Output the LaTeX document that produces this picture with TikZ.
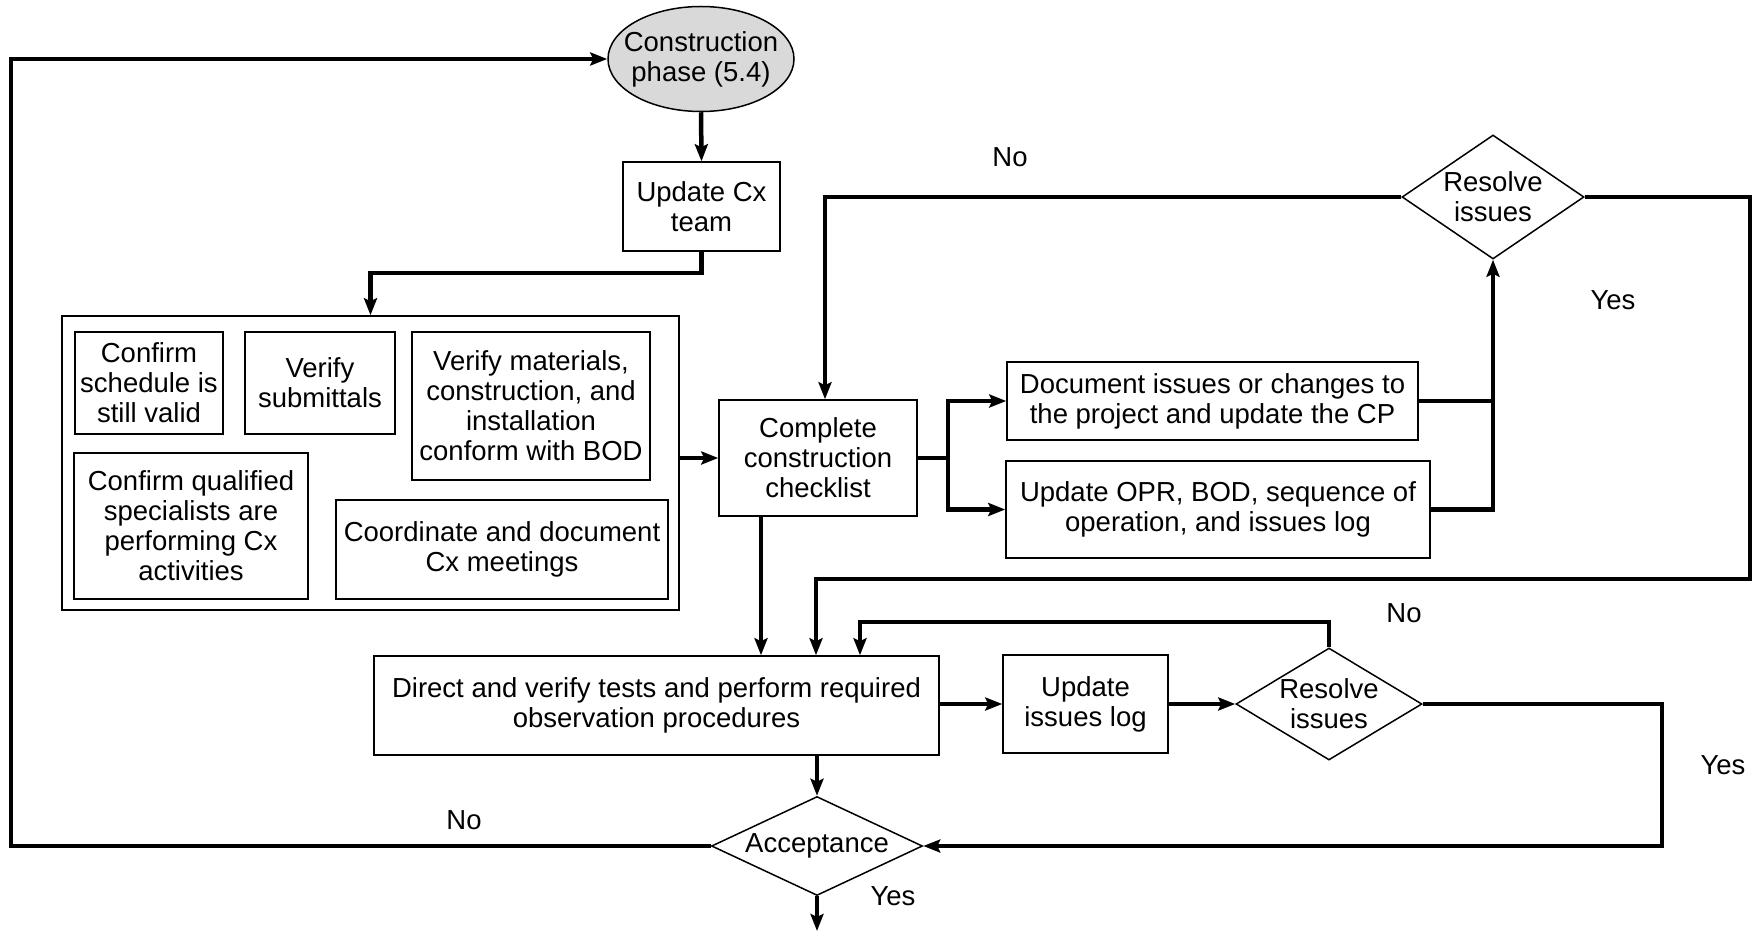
\documentclass[tikz,border=0pt]{standalone}
\usepackage{fontspec}
\setmainfont{Liberation Sans}
\usetikzlibrary{shapes.geometric,arrows.meta,calc}
\definecolor{phasegray}{HTML}{D9D9D9}
\begin{document}
\begin{tikzpicture}[x=1pt,y=-1pt,
  every node/.style={font=\fontsize{27.5}{30}\selectfont, align=center, inner sep=0pt, text=black},
  box/.style={draw, rectangle, line width=1.5pt},
  dia/.style={draw, diamond, line width=1.5pt, inner sep=0pt},
  flow/.style={line width=4.5pt, line join=miter},
  arr/.style={flow, -{Stealth[length=17pt,width=13pt,inset=3pt]}},
  lbl/.style={}
]
\useasboundingbox (0,0) rectangle (1760,933);

% nodes
\node[draw, ellipse, fill=phasegray, line width=1.5pt, inner xsep=-12pt, minimum width=186pt, minimum height=105pt] (ell) at (701,59) {Construction\\phase (5.4)};
\node[box, minimum width=157pt, minimum height=89pt] (upd) at (701.5,206.5) {Update Cx\\team};
\node[box, minimum width=617pt, minimum height=294pt] (big) at (370.5,463) {};
\node[box, minimum width=148pt, minimum height=102pt] (sched) at (149,383) {Confirm\\schedule is\\still valid};
\node[box, minimum width=150pt, minimum height=102pt] (subm) at (320,383) {Verify\\submittals};
\node[box, minimum width=238pt, minimum height=148pt] (mat) at (531,406) {Verify materials,\\construction, and\\installation\\conform with BOD};
\node[box, minimum width=234pt, minimum height=146pt] (qual) at (191,526) {Confirm qualified\\specialists are\\performing Cx\\activities};
\node[box, minimum width=332pt, minimum height=99pt] (coord) at (502,549.5) {Coordinate and document\\Cx meetings};
\node[box, minimum width=198pt, minimum height=116pt] (comp) at (818,458) {Complete\\construction\\checklist};
\node[box, minimum width=411pt, minimum height=78pt] (doc) at (1212.5,401) {Document issues or changes to\\the project and update the CP};
\node[box, minimum width=424pt, minimum height=97pt] (opr) at (1218,509.5) {Update OPR, BOD, sequence of\\operation, and issues log};
\node[dia, aspect=1.47, minimum width=182pt, minimum height=124pt] (res1) at (1493,197) {Resolve\\issues};
\node[box, minimum width=565pt, minimum height=99pt] (direct) at (656.5,705.5) {Direct and verify tests and perform required\\observation procedures};
\node[box, minimum width=165pt, minimum height=98pt] (log) at (1085.5,704) {Update\\issues log};
\node[dia, aspect=1.66, minimum width=186pt, minimum height=112pt] (res2) at (1329,704) {Resolve\\issues};
\node[dia, aspect=2.13, minimum width=211pt, minimum height=99pt] (acc) at (817,846) {Acceptance};

% labels
\node[lbl] (no1) at (1010,157) {No};
\node[lbl] (yes1) at (1613,300) {Yes};
\node[lbl] (no2) at (1404,613) {No};
\node[lbl] (yes2) at (1723,765) {Yes};
\node[lbl] (no3) at (464,820) {No};
\node[lbl] (yes3) at (893,896) {Yes};

% helper coordinates
\coordinate (r1c) at (1750,197);
\coordinate (r1d) at (1750,579);
\coordinate (r1e) at (816,579);
\coordinate (r2up) at (1329,622);
\coordinate (r2l) at (860,622);
\coordinate (r2r) at (1662,704);
\coordinate (accl) at (11,846);
\coordinate (split) at (948,458);
\coordinate (endpt) at (817,931);

% connectors
\draw[arr] (ell.south) -- (upd.north);
\draw[arr] (upd.south) -- ++(0,21) -| (big.north);
\draw[arr] (big.east |- comp.west) -- (comp.west);
\draw[flow] (comp.east) -- (split);
\draw[arr] (split) |- (doc.west);
\draw[arr] (split) |- (opr.west);
\draw[flow] (doc.east) -- (res1.south |- doc.east);
\draw[arr] (opr.east) -- (res1.south |- opr.east) -- (res1.south);
\draw[arr] (res1.west) -| ([xshift=7pt]comp.north);
\draw[arr] (res1.east) -- (r1c) -- (r1d) -- (r1e) -- (r1e |- direct.north);
\draw[arr] ([xshift=-57pt]comp.south) -- ([xshift=-57pt]comp.south |- direct.north);
\draw[arr] (direct.east |- log.west) -- (log.west);
\draw[arr] (log.east) -- (res2.west);
\draw[arr] (res2.north) -- (r2up) -- (r2l) -- (r2l |- direct.north);
\draw[arr] (res2.east) -- (r2r) -- (r2r |- acc.east) -- (acc.east);
\draw[arr] (acc.north |- direct.south) -- (acc.north);
\draw[arr] (acc.west) -- (accl) -- (accl |- ell.west) -- (ell.west);
\draw[arr] (acc.south) -- (endpt);
\end{tikzpicture}
\end{document}
